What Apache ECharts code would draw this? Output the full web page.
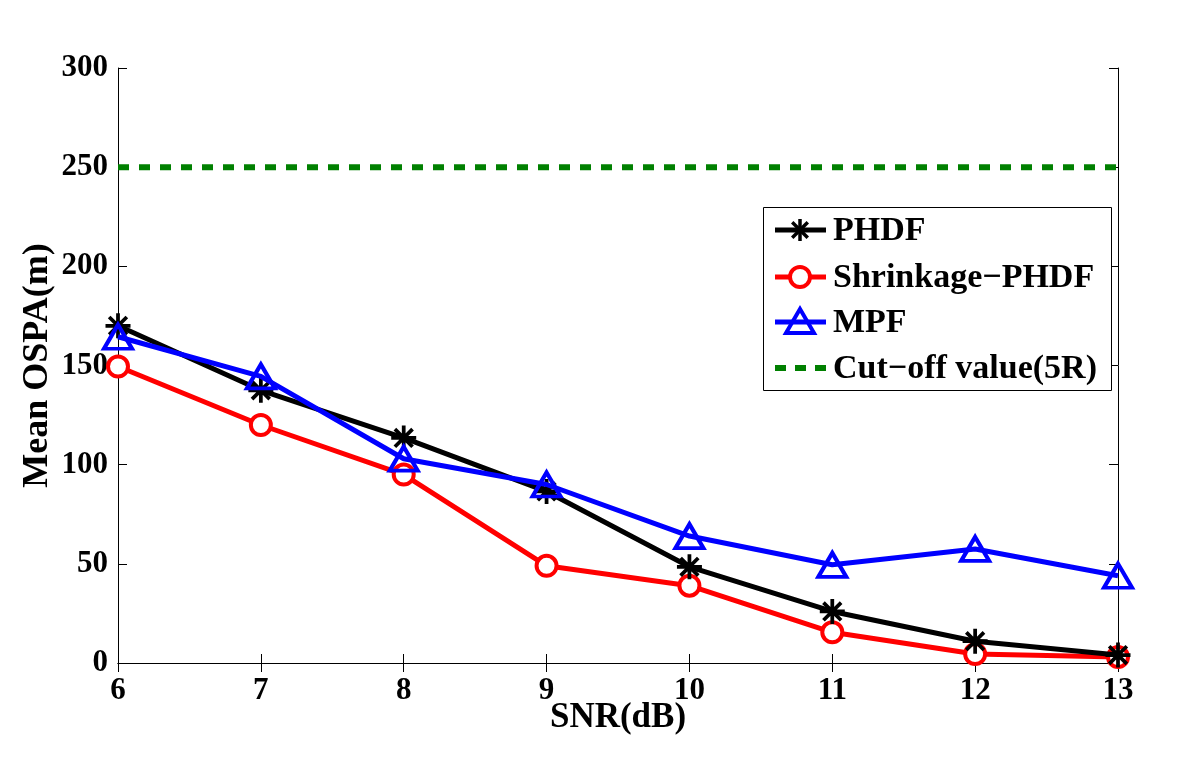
<!DOCTYPE html>
<html><head><meta charset="utf-8">
<script src="https://cdn.jsdelivr.net/npm/echarts@6/dist/echarts.min.js"></script>
<style>html,body{margin:0;padding:0;background:#fff}#c{width:1200px;height:769px}</style>
</head><body><div id="c"></div>
<script>
const snr = [6, 7, 8, 9, 10, 11, 12, 13];
const phdf = [170, 137.5, 113.5, 86.5, 48.5, 26, 11, 4];
const shrinkage = [149.5, 120, 95, 49, 39, 15.5, 4.5, 3];
const mpf = [164.5, 144.5, 103, 90, 64, 49.5, 57.5, 44];
const cutoffX = [6, 13];
const cutoffY = [250, 250];
const yTicks = [0, 50, 100, 150, 200, 250, 300];
const legendNames = ['PHDF', 'Shrinkage−PHDF', 'MPF', 'Cut−off value(5R)'];

const font = '"Liberation Serif", "Times New Roman", serif';
const pairs = (xs, ys) => xs.map((x, i) => [x, ys[i]]);
const asterisk = 'path://M-1.5,-10 L1.5,-10 L1.5,10 L-1.5,10 Z M-10,-1.5 L10,-1.5 L10,1.5 L-10,1.5 Z M-6,-8.12 L8.12,6 L6,8.12 L-8.12,-6 Z M6,-8.12 L8.12,-6 L-6,8.12 L-8.12,6 Z';

// Legend (drawn with graphic elements)
const lgX = 763, lgY = 207, lgW = 348, lgH = 183;
const rowY = [230, 277, 322, 368];
const sx0 = 775, sx1 = 826, scx = 800, tx = 833;
const legendGraphics = [
  {type: 'rect', shape: {x: lgX + 0.5, y: lgY + 0.5, width: lgW, height: lgH},
   style: {fill: '#fff', stroke: '#000', lineWidth: 1}, z: 100}
];
const lineCols = ['#000', '#ff0000', '#0000ff', '#008000'];
rowY.forEach((y, i) => {
  const ls = {stroke: lineCols[i], lineWidth: i === 3 ? 6 : 5};
  if (i === 3) ls.lineDash = [11, 9];
  legendGraphics.push({type: 'line', shape: {x1: sx0, y1: y, x2: sx1, y2: y}, style: ls, z: 101});
  legendGraphics.push({type: 'text', x: tx, y: y + 1,
    style: {text: legendNames[i], fill: '#000', font: 'bold 34px ' + font, textVerticalAlign: 'middle', verticalAlign: 'middle'}, z: 102});
});
// PHDF asterisk
[0, 45, 90, 135].forEach(a => {
  const r = 11, rad = a * Math.PI / 180;
  legendGraphics.push({type: 'line', shape: {x1: scx - r * Math.cos(rad), y1: rowY[0] - r * Math.sin(rad), x2: scx + r * Math.cos(rad), y2: rowY[0] + r * Math.sin(rad)},
    style: {stroke: '#000', lineWidth: 3.5}, z: 102});
});
legendGraphics.push({type: 'circle', shape: {cx: scx, cy: rowY[1], r: 10}, style: {fill: '#fff', stroke: '#ff0000', lineWidth: 4}, z: 102});
legendGraphics.push({type: 'polygon', shape: {points: [[scx, rowY[2] - 13], [scx + 14, rowY[2] + 11], [scx - 14, rowY[2] + 11]]},
  style: {fill: 'rgba(255,255,255,0)', stroke: '#0000ff', lineWidth: 4}, z: 102});

const chart = echarts.init(document.getElementById('c'), null, {renderer: 'canvas'});
const axisLine = {show: true, lineStyle: {color: '#000', width: 1}};
const tick = {show: true, inside: true, length: 9, lineStyle: {color: '#000'}};
chart.setOption({
  animation: false,
  backgroundColor: '#fff',
  grid: {left: 118, right: 82, top: 68, bottom: 106, containLabel: false},
  graphic: legendGraphics,
  xAxis: [{
    type: 'value', min: 6, max: 13, interval: 1,
    name: 'SNR(dB)', nameLocation: 'middle', nameGap: 37, nameMoveOverlap: false,
    nameTextStyle: {fontFamily: font, fontWeight: 'bold', fontSize: 35, color: '#000'},
    axisLine: axisLine, axisTick: tick,
    axisLabel: {fontFamily: font, fontWeight: 'bold', fontSize: 31, color: '#000', margin: 12},
    splitLine: {show: false}
  }, {
    type: 'value', min: 6, max: 13, interval: 1, position: 'top',
    axisLine: axisLine, axisTick: tick,
    axisLabel: {show: false}, splitLine: {show: false}
  }],
  yAxis: [{
    type: 'value', min: 0, max: 300, interval: 50,
    name: 'Mean OSPA(m)', nameLocation: 'middle', nameGap: 62, nameMoveOverlap: false,
    nameTextStyle: {fontFamily: font, fontWeight: 'bold', fontSize: 36, color: '#000'},
    axisLine: axisLine, axisTick: tick,
    axisLabel: {fontFamily: font, fontWeight: 'bold', fontSize: 31, color: '#000', margin: 10,
      formatter: v => yTicks.includes(v) ? String(v) : ''},
    splitLine: {show: false}
  }, {
    type: 'value', min: 0, max: 300, interval: 50, position: 'right',
    axisLine: axisLine, axisTick: tick,
    axisLabel: {show: false}, splitLine: {show: false}
  }],
  series: [
    {
      name: legendNames[3], type: 'line', data: pairs(cutoffX, cutoffY),
      symbol: 'none', z: 1,
      lineStyle: {color: '#008000', width: 6, type: [11, 10]},
      itemStyle: {color: '#008000'}
    },
    {
      name: legendNames[0], type: 'line', data: pairs(snr, phdf), z: 3,
      symbol: asterisk, symbolSize: 25,
      lineStyle: {color: '#000', width: 5},
      itemStyle: {color: '#000', borderWidth: 0}
    },
    {
      name: legendNames[1], type: 'line', data: pairs(snr, shrinkage), z: 2,
      symbol: 'circle', symbolSize: 20,
      lineStyle: {color: '#ff0000', width: 5},
      itemStyle: {color: '#fff', borderColor: '#ff0000', borderWidth: 4}
    },
    {
      name: legendNames[2], type: 'line', data: pairs(snr, mpf), z: 4,
      symbol: 'triangle', symbolSize: [28, 24],
      lineStyle: {color: '#0000ff', width: 5},
      itemStyle: {color: 'rgba(255,255,255,0)', borderColor: '#0000ff', borderWidth: 4}
    }
  ]
});
</script></body></html>
